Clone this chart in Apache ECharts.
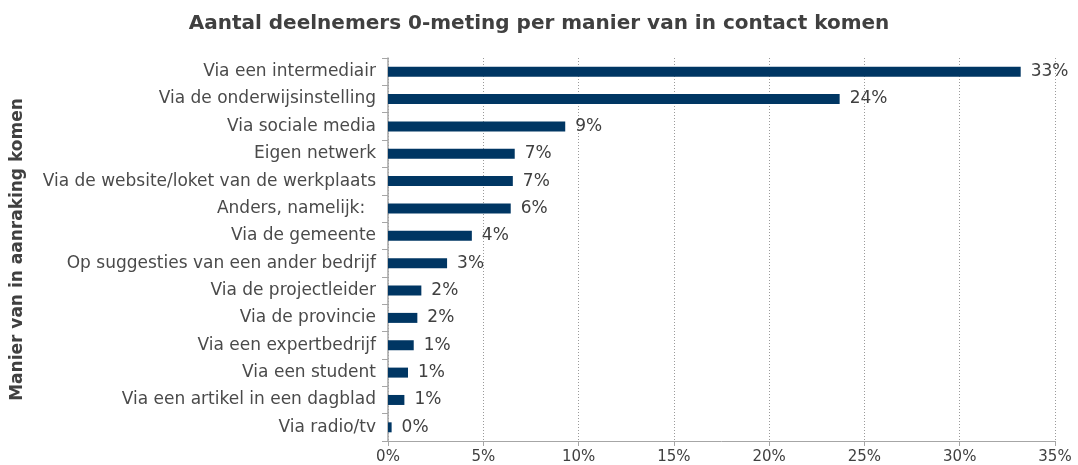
<!DOCTYPE html>
<html>
<head>
<meta charset="utf-8">
<script src="https://cdn.jsdelivr.net/npm/echarts@6/dist/echarts.min.js"></script>
<style>
  html, body { margin: 0; padding: 0; background: #fff; }
  #chart { width: 1078px; height: 465px; }
</style>
</head>
<body>
<div id="chart"></div>
<script>
  // categorieen van boven naar beneden
  const categories = [
    "Via een intermediair",
    "Via de onderwijsinstelling",
    "Via sociale media",
    "Eigen netwerk",
    "Via de website/loket van de werkplaats",
    "Anders, namelijk:  ",
    "Via de gemeente",
    "Op suggesties van een ander bedrijf",
    "Via de projectleider",
    "Via de provincie",
    "Via een expertbedrijf",
    "Via een student",
    "Via een artikel in een dagblad",
    "Via radio/tv"
  ];
  const values = [33.2, 23.7, 9.3, 6.65, 6.55, 6.44, 4.4, 3.1, 1.75, 1.54, 1.35, 1.05, 0.86, 0.19];
  const xTicks = [0, 5, 10, 15, 20, 25, 30, 35];

  const chart = echarts.init(document.getElementById("chart"));
  const textColor = "#404040";
  const font = "DejaVu Sans";

  chart.setOption({
    animation: false,
    title: {
      text: "Aantal deelnemers 0-meting per manier van in contact komen",
      left: "center",
      top: 9,
      textStyle: { fontFamily: font, fontSize: 20, fontWeight: "bold", color: textColor }
    },
    grid: { left: 388, right: 23, top: 58, bottom: 23 },
    xAxis: {
      type: "value",
      min: xTicks[0],
      max: xTicks[xTicks.length - 1],
      interval: 5,
      axisLine: { show: true, lineStyle: { color: "#a6a6a6", width: 1 } },
      axisTick: { show: true, length: 5, lineStyle: { color: "#a6a6a6" } },
      axisLabel: {
        formatter: "{value}%",
        fontFamily: font, fontSize: 15, color: textColor, margin: 9
      },
      splitLine: { show: true, lineStyle: { color: "#9a9a9a", type: [1, 2] } }
    },
    yAxis: {
      type: "category",
      data: categories,
      inverse: true,
      name: "Manier van in aanraking komen",
      nameLocation: "middle",
      nameRotate: 90,
      nameGap: 362,
      nameTextStyle: { fontFamily: font, fontSize: 17, fontWeight: "bold", color: textColor },
      axisLine: { show: true, lineStyle: { color: "#a6a6a6", width: 1.5 } },
      axisTick: { show: true, length: 6, lineStyle: { color: "#a6a6a6" } },
      axisLabel: { fontFamily: font, fontSize: 17, color: "#4a4a4a", margin: 12 }
    },
    series: [{
      type: "bar",
      data: values,
      barWidth: 10,
      itemStyle: { color: "#003663" },
      label: {
        show: true,
        position: "right",
        distance: 10,
        formatter: p => Math.round(p.value) + "%",
        fontFamily: font, fontSize: 17, color: textColor
      }
    }]
  });
</script>
</body>
</html>
